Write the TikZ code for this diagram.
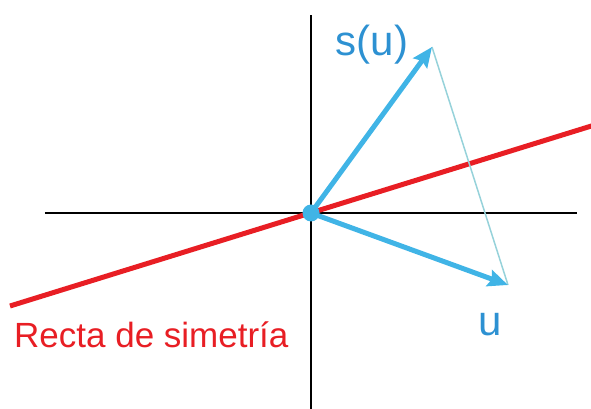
\documentclass[tikz,border=0pt]{standalone}
\usepackage{fontspec}
\setmainfont{Liberation Sans}
\usetikzlibrary{arrows.meta}
\definecolor{rojo}{RGB}{232,30,36}
\definecolor{azul}{RGB}{64,180,230}
\definecolor{azultxt}{RGB}{45,145,210}
\definecolor{azulclaro}{RGB}{150,210,218}
\tikzset{vec/.style={azul,line width=5pt,-{Stealth[length=20pt,width=17pt,inset=3pt]}}}

\begin{document}
\begin{tikzpicture}[x=10pt,y=10pt]
  \useasboundingbox (-31.1,-19.6) rectangle (28.0,21.3);
  \coordinate (O) at (0,0); \coordinate (U) at (19.7,-7.2); \coordinate (SU) at (12.1,16.6);
  \draw[line width=2pt] (-26.6,0) -- (26.6,0); \draw[line width=2pt] (0,-19.6) -- (0,19.8);
  \draw[rojo,line width=5pt] (-30.1,-9.3) -- (28.2,8.75);
  \draw[azulclaro,line width=1.5pt] (SU) -- (U);
  \draw[vec] (O) -- (SU); \draw[vec] (O) -- (U); \fill[azul] (O) circle (0.85);
  \node[azultxt,font=\fontsize{42}{48}\selectfont] (su) at (6.1,16.8) {s(u)};
  \node[azultxt,font=\fontsize{42}{48}\selectfont] (u) at (17.9,-11.2) {u};
  \node[rojo,font=\fontsize{35}{40}\selectfont,anchor=base west,inner sep=0pt] (recta) at (-29.7,-13.4) {Recta de simetría};
\end{tikzpicture}
\end{document}
